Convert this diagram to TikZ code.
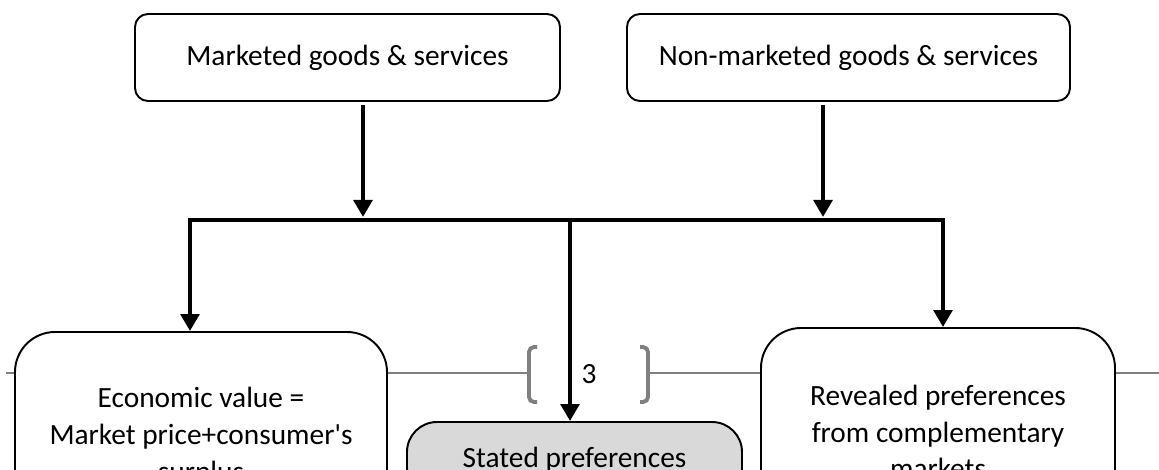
\documentclass[tikz,border=0pt]{standalone}
\usepackage{fontspec}
\setmainfont{Carlito}
\usetikzlibrary{arrows.meta}

\begin{document}
\begin{tikzpicture}
[x=0.2mm,y=-0.2mm,%
  every node/.style={font=\fontsize{16.7}{21}\selectfont},%
  box/.style={shape=rectangle,draw,line width=1.1pt,fill=white,align=center,inner sep=0pt,rounded corners=0.26cm},%
  bigbox/.style={box,rounded corners=0.8cm},%
  flow/.style={line width=2.8pt,-{Triangle[length=0.34cm,width=0.37cm]}},%
  bar/.style={line width=2.8pt,line cap=rect},%
  rule/.style={line width=0.9pt,color=black!50},%
  brk/.style={line width=2.2pt,color=black!50,rounded corners=0.1cm}]
\useasboundingbox (0,0) rectangle (1159,470);
\clip (0,0) rectangle (1159,470);
\draw[rule] (6,373) -- (527,373);
\draw[rule] (649,373) -- (1159,373);
\draw[brk] (537,347) -- (529,347) -- (529,402) -- (537,402);
\draw[brk] (640,347) -- (648,347) -- (648,402) -- (640,402);
\node (page) at (589,374) {3};
\node[box,minimum width=8.5cm,minimum height=1.74cm] (market) at (347.5,57.5) {Marketed goods \& services};
\node[box,minimum width=8.86cm,minimum height=1.74cm] (nonmarket) at (848.5,57.5) {Non-marketed goods \& services};
\node[bigbox,minimum width=7.44cm,minimum height=4.2cm] (econ) at (201,437) {Economic value =\\Market price+consumer\textquotesingle s\\surplus};
\node[box,rounded corners=0.6cm,fill=black!15,minimum width=6.7cm,minimum height=1.52cm] (stated) at (574.5,460) {Stated preferences};
\node[bigbox,minimum width=7.08cm,minimum height=4.16cm] (reveal) at (938,432) {Revealed preferences\\from complementary\\markets};
\coordinate (barL) at (190,220);
\coordinate (barR) at (943,220);
\coordinate (joinA) at (363,220);
\coordinate (joinB) at (823,220);
\coordinate (joinM) at (570,220);
\draw[bar] (barL) -- (barR);
\draw[flow,shorten <=0.06cm,shorten >=0.06cm] (market.south -| joinA) -- (joinA);
\draw[flow,shorten <=0.06cm,shorten >=0.06cm] (nonmarket.south -| joinB) -- (joinB);
\draw[flow] (barL) -- (econ.north -| barL);
\draw[flow] (joinM) -- (stated.north -| joinM);
\draw[flow] (barR) -- (reveal.north -| barR);
\end{tikzpicture}
\end{document}
